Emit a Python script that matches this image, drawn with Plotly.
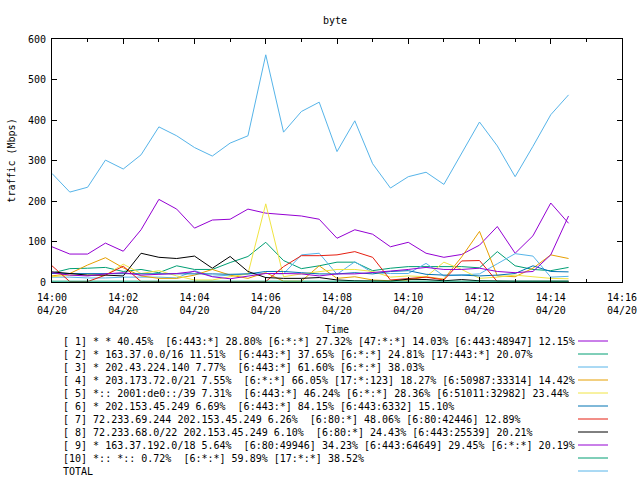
import pandas as pd
import plotly.graph_objects as go

times = pd.date_range("2024-04-20 14:00:00", periods=30, freq="30s")

s1 = [87, 69, 69, 96, 76, 129, 204, 180, 133, 153, 155, 180, 170, 167, 163, 155, 108, 129, 118, 87, 98, 71, 61, 68, 91, 137, 71, 114, 195, 145]
s2 = [22, 33, 34, 36, 26, 31, 23, 40, 31, 31, 48, 63, 98, 53, 33, 40, 49, 49, 28, 34, 38, 38, 38, 38, 35, 75, 40, 31, 28, 36]
s3 = [12, 12, 10, 10, 12, 12, 12, 10, 28, 14, 17, 20, 21, 20, 67, 71, 19, 50, 23, 21, 21, 46, 15, 17, 20, 45, 70, 64, 12, 14]
s4 = [15, 21, 42, 60, 35, 15, 9, 9, 17, 31, 17, 9, 23, 2, 2, 40, 9, 13, 5, 3, 5, 13, 7, 62, 125, 15, 13, 34, 67, 58]
s5 = [13, 17, 17, 17, 44, 21, 28, 15, 5, 5, 13, 20, 193, 13, 20, 26, 31, 31, 26, 12, 15, 13, 49, 31, 9, 12, 17, 13, 9, 8]
s6 = [21, 21, 21, 21, 21, 21, 21, 20, 20, 20, 19, 20, 26, 26, 23, 20, 20, 23, 20, 26, 28, 19, 17, 17, 15, 17, 21, 40, 26, 25]
s7 = [40, 1, 1, 17, 39, 1, 1, 1, 1, 1, 1, 1, 1, 38, 65, 65, 67, 75, 61, 5, 8, 12, 5, 52, 53, 1, 1, 1, 1, 1]
s8 = [25, 21, 17, 17, 15, 71, 61, 58, 64, 34, 63, 26, 11, 9, 9, 11, 5, 3, 2, 2, 7, 6, 3, 6, 3, 2, 2, 2, 2, 2]
s9 = [23, 17, 15, 20, 23, 17, 19, 21, 26, 13, 8, 15, 21, 21, 20, 15, 20, 20, 23, 27, 31, 36, 31, 31, 34, 26, 23, 26, 67, 163]
s10 = [2, 2, 1, 1, 2, 2, 1, 1, 2, 2, 1, 1, 2, 2, 1, 2, 2, 1, 1, 2, 2, 1, 2, 2, 1, 1, 2, 2, 2, 2]
total = [268, 222, 234, 301, 279, 314, 383, 361, 332, 311, 343, 361, 561, 370, 421, 444, 322, 398, 292, 232, 260, 271, 241, 318, 395, 336, 260, 335, 413, 462]

series = [s1, s2, s3, s4, s5, s6, s7, s8, s9, s10, total]

labels = [
    "[ 1] * * 40.45%  [6:443:*] 28.80% [6:*:*] 27.32% [47:*:*] 14.03% [6:443:48947] 12.15%",
    "[ 2] * 163.37.0.0/16 11.51%  [6:443:*] 37.65% [6:*:*] 24.81% [17:443:*] 20.07%",
    "[ 3] * 202.43.224.140 7.77%  [6:443:*] 61.60% [6:*:*] 38.03%",
    "[ 4] * 203.173.72.0/21 7.55%  [6:*:*] 66.05% [17:*:123] 18.27% [6:50987:33314] 14.42%",
    "[ 5] *:: 2001:de0::/39 7.31%  [6:443:*] 46.24% [6:*:*] 28.36% [6:51011:32982] 23.44%",
    "[ 6] * 202.153.45.249 6.69%  [6:443:*] 84.15% [6:443:6332] 15.10%",
    "[ 7] 72.233.69.244 202.153.45.249 6.26%  [6:80:*] 48.06% [6:80:42446] 12.89%",
    "[ 8] 72.233.68.0/22 202.153.45.249 6.10%  [6:80:*] 24.43% [6:443:25539] 20.21%",
    "[ 9] * 163.37.192.0/18 5.64%  [6:80:49946] 34.23% [6:443:64649] 29.45% [6:*:*] 20.19%",
    "[10] *:: *:: 0.72%  [6:*:*] 59.89% [17:*:*] 38.52%",
    "TOTAL",
]

colors = ["#9400d3", "#009e73", "#56b4e9", "#e69f00", "#f0e442", "#0072b2",
          "#e51e10", "#000000", "#9400d3", "#009e73", "#56b4e9"]

FONT = "DejaVu Sans Mono"

fig = go.Figure()
for vals, lab, col in zip(series, labels, colors):
    fig.add_trace(go.Scatter(x=times, y=vals, mode="lines", name=lab,
                             line=dict(color=col, width=1), showlegend=False,
                             hoverinfo="skip"))

# geometry of plot area in pixels
L, R, T, B = 52, 622, 39, 282
W, H = R - L, B - T

def px_x(x):
    return (x - L) / W

def px_y(y):
    return (B - y) / H

shapes = []
annotations = []
for i, (lab, col) in enumerate(zip(labels, colors)):
    ypix = 341 + 13 * i
    annotations.append(dict(x=px_x(61), y=px_y(ypix), xref="paper", yref="paper",
                            xanchor="left", yanchor="middle", showarrow=False,
                            text=lab.replace(" ", "\u00a0"),
                            font=dict(family=FONT, size=10, color="black")))
    shapes.append(dict(type="line", xref="paper", yref="paper",
                       x0=px_x(578), x1=px_x(608), y0=px_y(ypix), y1=px_y(ypix),
                       line=dict(color=col, width=1)))

fig.update_layout(
    width=640, height=480,
    margin=dict(l=L, r=640 - R, t=T, b=480 - B, pad=0, autoexpand=False),
    paper_bgcolor="white", plot_bgcolor="white",
    font=dict(family=FONT, size=10, color="black"),
    title=dict(text="byte", x=335 / 640, xanchor="center", y=1 - 20 / 480, yanchor="middle",
               font=dict(family=FONT, size=10, color="black"), automargin=False),
    shapes=shapes, annotations=annotations,
    showlegend=False,
    hovermode=False,
)

fig.update_xaxes(
    type="date", automargin=False,
    range=["2024-04-20 14:00:00", "2024-04-20 14:16:00"],
    tick0="2024-04-20 14:00:00", dtick=120000,
    tickformat="%H:%M<br>%m/%d",
    ticks="inside", ticklen=5, tickcolor="black",
    ticklabelstandoff=6,
    minor=dict(dtick=60000, ticks="inside", ticklen=3, tickcolor="black"),
    showline=True, linecolor="black", linewidth=1, mirror="ticks",
    showgrid=False, zeroline=False,
    title=dict(text="Time", standoff=10, font=dict(family=FONT, size=10, color="black")),
    tickfont=dict(family=FONT, size=10, color="black"),
)
fig.update_yaxes(
    automargin=False,
    range=[0, 600], dtick=100, tick0=0,
    ticks="inside", ticklen=5, tickcolor="black",
    ticklabelstandoff=3,
    showline=True, linecolor="black", linewidth=1, mirror="ticks",
    showgrid=False, zeroline=False,
    title=dict(text="traffic (Mbps)", standoff=10, font=dict(family=FONT, size=10, color="black")),
    tickfont=dict(family=FONT, size=10, color="black"),
)

fig.write_html("out.html", config={"displayModeBar": False},
               post_script="document.body.style.margin='0';")
